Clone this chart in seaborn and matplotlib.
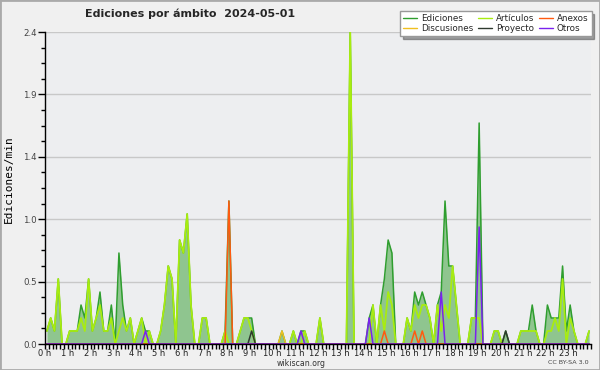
import numpy as np
import seaborn as sns
import matplotlib.pyplot as plt
from matplotlib.lines import Line2D
from matplotlib.patches import Rectangle
from matplotlib.ticker import MultipleLocator, FormatStrFormatter

sns.set_theme(style="white")
plt.rcParams['font.family'] = ['DejaVu Sans']

# data: edits per minute, one value per 10-minute slot (144 slots)
titulo = "Ediciones por ámbito  2024-05-01"
etiquetas_horas = [f"{h} h" for h in range(24)]

ediciones = [
    0.1, 0.2, 0.1, 0.5, 0.0, 0.0, 0.1, 0.1, 0.1, 0.3, 0.2, 0.5,
    0.1, 0.2, 0.4, 0.1, 0.1, 0.3, 0.0, 0.7, 0.3, 0.1, 0.2, 0.0,
    0.1, 0.2, 0.1, 0.1, 0.0, 0.0, 0.1, 0.3, 0.6, 0.5, 0.0, 0.8,
    0.7, 1.0, 0.3, 0.0, 0.0, 0.2, 0.2, 0.0, 0.0, 0.0, 0.0, 0.1,
    1.1, 0.0, 0.0, 0.1, 0.2, 0.2, 0.2, 0.0, 0.0, 0.0, 0.0, 0.0,
    0.0, 0.0, 0.1, 0.0, 0.0, 0.1, 0.0, 0.1, 0.1, 0.0, 0.0, 0.0,
    0.2, 0.0, 0.0, 0.0, 0.0, 0.0, 0.0, 0.0, 2.4, 0.0, 0.0, 0.0,
    0.0, 0.2, 0.3, 0.0, 0.3, 0.5, 0.8, 0.7, 0.0, 0.0, 0.0, 0.2,
    0.1, 0.4, 0.3, 0.4, 0.3, 0.2, 0.0, 0.3, 0.4, 1.1, 0.6, 0.6,
    0.3, 0.0, 0.0, 0.0, 0.2, 0.2, 1.7, 0.0, 0.0, 0.0, 0.1, 0.1,
    0.0, 0.1, 0.0, 0.0, 0.0, 0.1, 0.1, 0.1, 0.3, 0.1, 0.0, 0.0,
    0.3, 0.2, 0.2, 0.2, 0.6, 0.1, 0.3, 0.1, 0.0, 0.0, 0.0, 0.1,
]
articulos = [
    0.1, 0.2, 0.1, 0.5, 0.0, 0.0, 0.1, 0.1, 0.1, 0.2, 0.1, 0.5,
    0.1, 0.2, 0.3, 0.1, 0.1, 0.2, 0.0, 0.1, 0.2, 0.1, 0.2, 0.0,
    0.1, 0.2, 0.0, 0.1, 0.0, 0.0, 0.1, 0.3, 0.6, 0.5, 0.0, 0.8,
    0.7, 1.0, 0.3, 0.0, 0.0, 0.2, 0.2, 0.0, 0.0, 0.0, 0.0, 0.1,
    0.0, 0.0, 0.0, 0.1, 0.2, 0.2, 0.1, 0.0, 0.0, 0.0, 0.0, 0.0,
    0.0, 0.0, 0.0, 0.0, 0.0, 0.1, 0.0, 0.0, 0.1, 0.0, 0.0, 0.0,
    0.2, 0.0, 0.0, 0.0, 0.0, 0.0, 0.0, 0.0, 2.4, 0.0, 0.0, 0.0,
    0.0, 0.0, 0.3, 0.0, 0.3, 0.1, 0.4, 0.3, 0.0, 0.0, 0.0, 0.2,
    0.1, 0.3, 0.2, 0.3, 0.3, 0.2, 0.0, 0.3, 0.1, 0.3, 0.2, 0.6,
    0.3, 0.0, 0.0, 0.0, 0.2, 0.2, 0.2, 0.0, 0.0, 0.0, 0.1, 0.1,
    0.0, 0.0, 0.0, 0.0, 0.0, 0.1, 0.1, 0.1, 0.1, 0.1, 0.0, 0.0,
    0.1, 0.1, 0.2, 0.1, 0.5, 0.0, 0.2, 0.1, 0.0, 0.0, 0.0, 0.1,
]
# sparse series: slot -> value
discusiones = {62: 0.1}
anexos = {48: 1.1, 89: 0.1, 97: 0.1, 99: 0.1}
proyecto = {54: 0.1, 121: 0.1}
otros = {26: 0.1, 67: 0.1, 85: 0.2, 104: 0.4, 114: 0.9}

n = len(ediciones)
horas = (np.arange(n) + 0.5) / 6  # middle of each 10 min slot


def serie(puntos):
    v = np.zeros(n)
    for k, val in puntos.items():
        v[k] = val
    return v


colores = {
    "Ediciones": "#2f9e2f",
    "Discusiones": "#f0c020",
    "Artículos": "#a8ec10",
    "Proyecto": "#2f3a2f",
    "Anexos": "#ff5a10",
    "Otros": "#7a22ee",
}

fig = plt.figure(figsize=(6, 3.7), dpi=100, facecolor="#f0f0f0")
ax = fig.add_axes([45 / 600, 26 / 370, 546 / 600, 312 / 370])
ax.set_facecolor("#edeef0")

ax.fill_between(horas, ediciones, color="#8fc58f", lw=0, zorder=2)
sns.lineplot(x=horas, y=ediciones, ax=ax, color=colores["Ediciones"], lw=1.1, zorder=3)
sns.lineplot(x=horas, y=articulos, ax=ax, color=colores["Artículos"], lw=1.3, zorder=4)
sns.lineplot(x=horas, y=serie(discusiones), ax=ax, color=colores["Discusiones"], lw=1.1, zorder=5)
sns.lineplot(x=horas, y=serie(proyecto), ax=ax, color=colores["Proyecto"], lw=1.1, zorder=5)
sns.lineplot(x=horas, y=serie(anexos), ax=ax, color=colores["Anexos"], lw=1.1, zorder=6)
sns.lineplot(x=horas, y=serie(otros), ax=ax, color=colores["Otros"], lw=1.1, zorder=6)

ax.set_xlim(0, 24)
ax.set_ylim(0, 2.4)
ax.set_xticks(range(24))
ax.set_xticklabels(etiquetas_horas)
ax.xaxis.set_minor_locator(MultipleLocator(1 / 6))
ax.set_yticks(np.linspace(0, 2.4, 6))
ax.yaxis.set_major_formatter(FormatStrFormatter("%.1f"))
ax.yaxis.set_minor_locator(MultipleLocator(0.12))

ax.yaxis.grid(True, which="major", color="#c8c8c8", lw=1)
ax.set_axisbelow(True)
for s in ["top", "right"]:
    ax.spines[s].set_visible(False)
for s in ["left", "bottom"]:
    ax.spines[s].set_color("black")
    ax.spines[s].set_linewidth(1)
    ax.spines[s].set_zorder(10)

ax.tick_params(axis="x", which="both", bottom=True, direction="out", length=3.5,
               width=1, color="black", labelsize=6, labelcolor="#222222", pad=0)
ax.tick_params(axis="y", which="major", left=True, direction="out", length=5,
               width=1, color="black", labelsize=6.2, labelcolor="#444444", pad=1)
ax.tick_params(axis="y", which="minor", left=True, direction="out", length=3,
               width=1, color="black")

ax.set_xlabel("")
ax.set_ylabel("Ediciones/min", fontfamily="DejaVu Sans Mono", fontsize=8, color="black")
ax.yaxis.set_label_coords(-31 / 546, 0.53)

fig.text(85 / 600, 1 - 14 / 370, titulo, fontsize=8, fontweight="bold", va="center", ha="left")
fig.text(301 / 600, 1 - 363 / 370, "wikiscan.org", fontsize=5.6, color="#333333", ha="center", va="center")
fig.text(589 / 600, 1 - 363 / 370, "CC BY-SA 3.0", fontsize=4.6, color="#444444", ha="right", va="center")

orden = ["Ediciones", "Discusiones", "Artículos", "Proyecto", "Anexos", "Otros"]
manejadores = [Line2D([], [], color=colores[k], lw=1) for k in orden]
leg = fig.legend(manejadores, orden, loc="upper right", bbox_to_anchor=(596 / 600, 1 - 7 / 370),
                 ncol=3, fontsize=6.3, handlelength=1.6, handletextpad=0.4, columnspacing=0.6,
                 labelspacing=0.05, borderpad=0.35, fancybox=False, shadow=True,
                 frameon=True, facecolor="white", edgecolor="#999999", framealpha=1)
leg.set_zorder(20)

fig.patches.append(Rectangle((0, 0), 1, 1, transform=fig.transFigure, fill=False,
                             edgecolor="#aaaaaa", lw=2))

fig.savefig("out.png", dpi=100, facecolor=fig.get_facecolor())
